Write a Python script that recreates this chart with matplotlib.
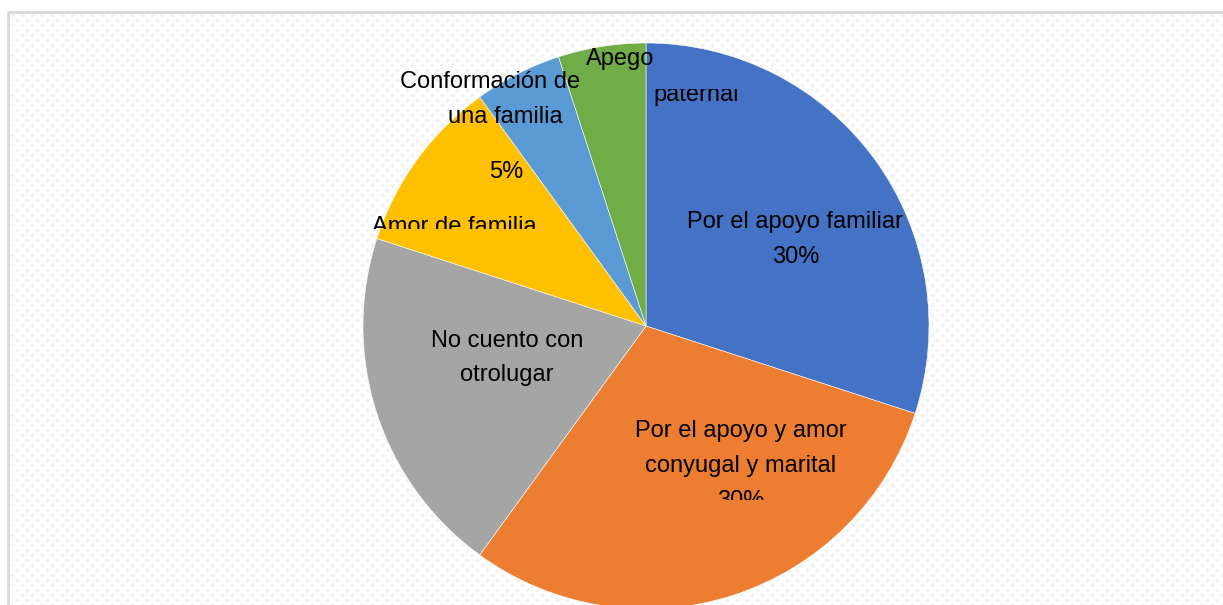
"""Pie chart: motivos (recreated)"""

import numpy as np
import matplotlib.pyplot as plt
from matplotlib.patches import Rectangle
from matplotlib.transforms import Bbox

W, H = 1223, 605

categorias = ['Por el apoyo familiar', 'Por el apoyo y amor conyugal y marital',
              'No cuento con otrolugar', 'Amor de familia',
              'Conformación de una familia', 'Apego paternal']
valores = [30, 30, 20, 10, 5, 5]
colores = ['#4472C4', '#ED7D31', '#A5A5A5', '#FFC000', '#5B9BD5', '#70AD47']

# label lines as they show up in the picture (Excel clipped some of them)
etiquetas = [
    # text, x, baseline y (pixels from top), clip (x0, y0, x1, y1) or None
    ('Por el apoyo familiar', 795, 228, None),
    ('30%', 796, 263, None),
    ('Por el apoyo y amor', 741, 437, None),
    ('conyugal y marital', 741, 472, None),
    ('30%', 741, 507, (600, 0, 900, 500)),
    ('No cuento con', 507, 347, None),
    ('otrolugar', 507, 381, None),
    ('5%', 506, 178, None),
    ('Amor de familia', 454, 233, (300, 150, 600, 229)),
    ('Conformación de', 490, 88, None),
    ('una familia', 505, 123, None),
    ('Apego', 620, 65, None),
    ('paternal', 696, 101, (600, 89, 800, 150)),
]

plt.rcParams['font.family'] = ['Liberation Sans', 'DejaVu Sans']

fig = plt.figure(figsize=(W / 100, H / 100), dpi=100)

# background with the light texture and the frame
ax_bg = fig.add_axes([0, 0, 1, 1])
ax_bg.set_xlim(0, W)
ax_bg.set_ylim(H, 0)
ax_bg.axis('off')
yy, xx = np.mgrid[0:H, 0:W]
tex = (((xx - yy) // 5) % 2) * (((xx + yy) // 5) % 2)
img = np.where(tex == 1, 0.955, 0.995)
img[:11, :] = 1.0
img[:, :7] = 1.0
ax_bg.imshow(img, cmap='gray', vmin=0, vmax=1, extent=(0, W, H, 0),
             interpolation='nearest', aspect='auto')
ax_bg.add_patch(Rectangle((8, 12), W + 20, H + 20, fill=False,
                          edgecolor='#D9D9D9', lw=2))

# pie
cx, cy, r = 646, 326, 283
ax = fig.add_axes([(cx - r) / W, (H - cy - r) / H, 2 * r / W, 2 * r / H])
ax.pie(valores, colors=colores, startangle=90, counterclock=False, radius=1,
       wedgeprops=dict(edgecolor='white', linewidth=0.4))
ax.set_xlim(-1, 1)
ax.set_ylim(-1, 1)
ax.axis('off')
for p in ax.patches:
    p.set_clip_on(False)

# labels
ax_t = fig.add_axes([0, 0, 1, 1], zorder=5)
ax_t.set_xlim(0, W)
ax_t.set_ylim(H, 0)
ax_t.axis('off')
ax_t.patch.set_alpha(0)
for txt, x, y, clip in etiquetas:
    t = ax_t.text(x, y, txt, ha='center', va='baseline', fontsize=17, color='black')
    if clip is not None:
        x0, y0, x1, y1 = clip
        t.set_clip_on(True)
        t.set_clip_box(Bbox.from_extents(x0, H - y1, x1, H - y0))

fig.savefig('out.png', dpi=100)
